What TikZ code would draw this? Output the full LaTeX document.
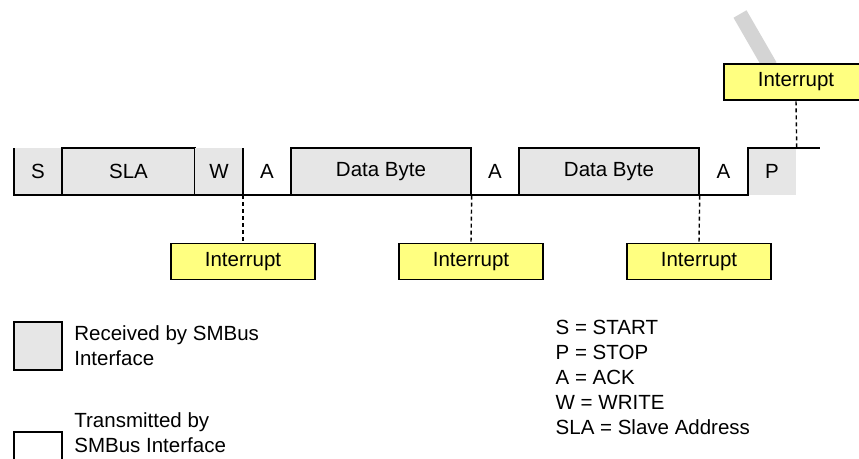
\documentclass[tikz,border=0pt]{standalone}
\usepackage{fontspec}
\setmainfont{Liberation Sans}
\usepackage{xcolor}
\usepackage{tikz}
\usetikzlibrary{positioning}

\definecolor{rxgray}{HTML}{E6E6E6}
\definecolor{intyellow}{HTML}{FFFF80}
\definecolor{markgray}{HTML}{D4D4D4}

\begin{document}
\begin{tikzpicture}[
    x=1pt, y=-1pt,
    font=\fontsize{20.5}{25}\selectfont,
    line width=1.4pt,
    cell/.style={rectangle, inner sep=0pt, minimum height=47pt, text centered},
    rxcell/.style={cell, fill=rxgray},
    rxbox/.style={cell, fill=rxgray, draw=black},
    intbox/.style={rectangle, draw=black, fill=intyellow, inner sep=0pt, minimum width=144pt, minimum height=36pt},
    legbox/.style={rectangle, draw=black, inner sep=0pt, minimum width=48pt, minimum height=48pt},
    irq/.style={dashed, dash pattern=on 4pt off 3pt}
]
\useasboundingbox (0,0) rectangle (859,458);

% Marker
\draw [line width=15pt, markgray] (740,14) -- (770,66);

% Frame
\node (s) [rxcell, minimum width=48pt] at (38,171.5) {S};
\node (sla) [rxbox, minimum width=133pt] at (128.5,171.5) {SLA};
\node (w) [rxcell, minimum width=48pt] at (219,171.5) {W};
\node (ack1) [cell] at (267,171.5) {A};
\node (data1) [rxbox, minimum width=180pt] at (381,171.5) {Data Byte};
\node (ack2) [cell] at (495,171.5) {A};
\node (data2) [rxbox, minimum width=180pt] at (609,171.5) {Data Byte};
\node (ack3) [cell] at (723.5,171.5) {A};
\node (p) [rxcell, minimum width=48pt] at (772,171.5) {P};

\draw (14,148) -- (14,195) -- (748,195) -- (748,148) -- (820,148);
\draw (243,148) -- (243,195);

% Interrupts
\node (int1) [intbox] at (243,261.5) {Interrupt};
\node (int2) [intbox] at (471,261.5) {Interrupt};
\node (int3) [intbox] at (699,261.5) {Interrupt};
\node (int4) [intbox] at (796,82) {Interrupt};

\draw [irq] (243,195) -- (int1.north);
\draw [irq] (data1.south east) -- (int2.north);
\draw [irq] (data2.south east) -- (int3.north);
\draw [irq] (p.north east) -- (int4.south);

% Legend
\node (legrx) [legbox, fill=rxgray] at (38,346) {};
\node (legrxtext) [right=11pt of legrx, align=left, inner sep=0pt] {Received by SMBus\\Interface};
\node (legtx) [legbox] at (38,456) {};
\node (legtxtext) [right=11pt of legtx, align=left, inner sep=0pt, yshift=23pt] {Transmitted by\\SMBus Interface};
\node (abbrev) [align=left, inner sep=0pt, anchor=west] at (555,377.5) {S = START\\P = STOP\\A = ACK\\W = WRITE\\SLA = Slave Address};

\end{tikzpicture}
\end{document}
